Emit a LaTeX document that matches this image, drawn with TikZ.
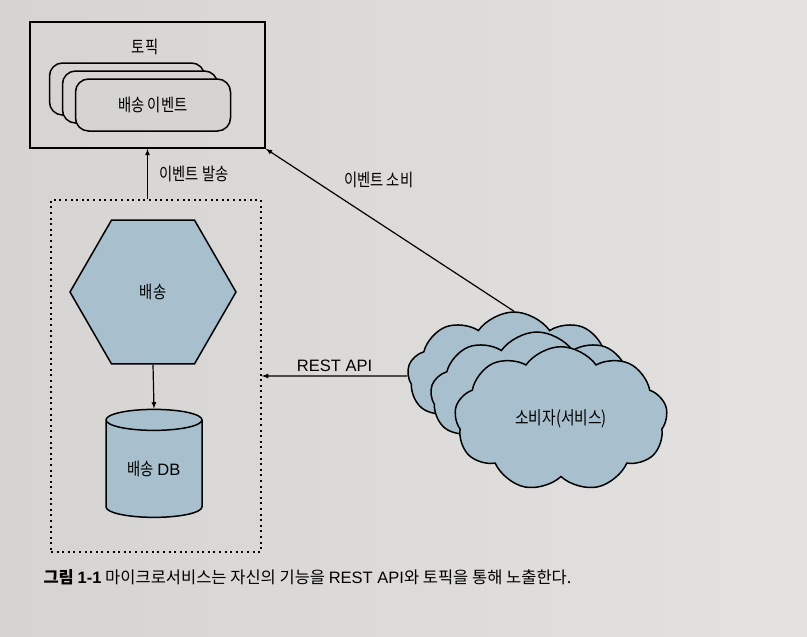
\documentclass[tikz,border=0pt]{standalone}
\usepackage{fontspec}
\setmainfont{Noto Sans CJK KR}[FakeStretch=0.82]
\newfontfamily\capfont{Noto Sans CJK KR}
\newfontfamily\latinfont{Liberation Sans}
\usetikzlibrary{arrows}
\usetikzlibrary{positioning}
\usetikzlibrary{shapes.geometric,shapes.symbols}
\definecolor{paper}{RGB}{214,212,210}
\definecolor{paperlight}{RGB}{228,226,224}
\definecolor{shipblue}{RGB}{168,192,206}

\begin{document}
\begin{tikzpicture}
  [x=1pt,y=-1pt,>=latex,
   label font/.style={font=\fontsize{17.5pt}{19pt}\selectfont},
   box node/.style={rectangle,draw,line width=1.5pt,inner sep=0pt},
   event node/.style={rectangle,rounded corners=13pt,draw,line width=1.5pt,fill=paper,minimum width=155pt,minimum height=52pt,label font},
   blue node/.style={draw,line width=1.5pt,fill=shipblue,inner sep=0pt,label font},
   cloud node/.style={blue node,cloud,cloud puffs=9,cloud puff arc=110,minimum width=213pt,minimum height=128pt}]
  \fill[left color=paper,right color=paperlight] (0,0) rectangle (807,637);
  \useasboundingbox (0,0) rectangle (807,637);

  \node[box node,minimum width=235pt,minimum height=126pt] (Topic) at (147.5,85) {};
  \node[label font] (TopicTitle) at (145,47) {토픽};
  \node[event node] (EventBack)   at (127,89)  {};
  \node[event node] (EventMiddle) at (140,97)  {};
  \node[event node] (EventFront)  at (153,105) {배송 이벤트};

  \node[box node,dash pattern=on 2pt off 3.6pt,line width=1.7pt,minimum width=210pt,minimum height=352pt] (ServiceBox) at (156,376) {};
  \node[blue node,regular polygon,regular polygon sides=6,minimum size=166pt] (Shipping) at (153,292) {배송};
  \node[blue node,cylinder,shape border rotate=90,aspect=0.4,minimum width=96pt,minimum height=108pt] (ShippingDB) at (154,469) {배송 {\latinfont\fontsize{16.5pt}{18pt}\selectfont DB}};

  \node[cloud node] (ConsumerBack)   at (514,376) {};
  \node[cloud node] (ConsumerMiddle) at (537,396) {};
  \node[cloud node,font=\fontsize{18pt}{19pt}\selectfont] (ConsumerFront) at (561,419) {소비자(서비스)};

  \node[anchor=west,font=\capfont\fontsize{16.5pt}{18pt}\selectfont] (Caption) at (40,577) {{\bfseries 그림 {\latinfont 1-1}} 마이크로서비스는 자신의 기능을 {\latinfont REST API}와 토픽을 통해 노출한다.};

  \path[->,line width=1.2pt,every node/.style={label font}]
    (Topic.south |- ServiceBox.north) edge node [right=8pt] {이벤트 발송} (Topic.south)
    (Shipping.south)                  edge (ShippingDB.north)
    (ConsumerBack.west)               edge node [above,font=\latinfont\fontsize{16.5pt}{18pt}\selectfont] {REST API} (ServiceBox.east)
    (ConsumerBack.north)              edge node [pos=0.7,anchor=south west,yshift=6pt] {이벤트 소비} (Topic.south east)
    ;
\end{tikzpicture}
\end{document}
